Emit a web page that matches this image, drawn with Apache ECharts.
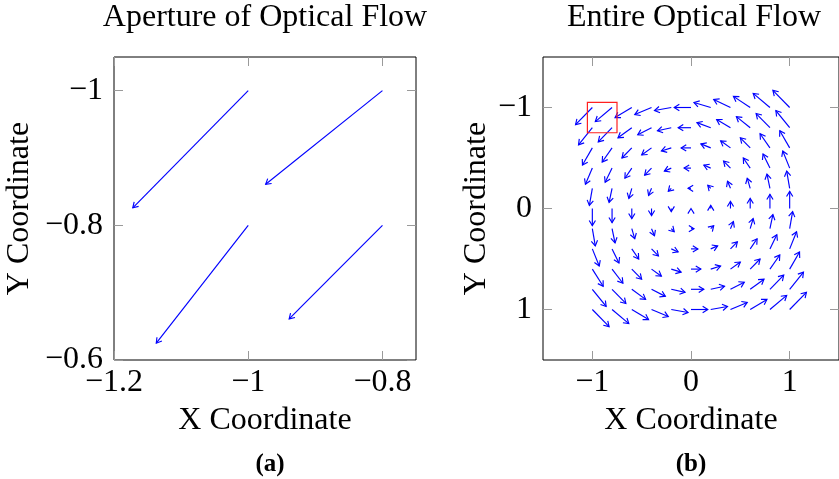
<!DOCTYPE html>
<html lang="en">
<head>
<meta charset="UTF-8">
<title>Optical Flow</title>
<script src="https://cdn.jsdelivr.net/npm/echarts@6/dist/echarts.min.js"></script>
<style>
  html, body { margin: 0; padding: 0; background: #fff; }
  #main { width: 839px; height: 479px; }
</style>
</head>
<body>
<div id="main"></div>
<script>
// aperture (left): arrow tails and flow vectors
var apX = [-1, -0.8, -1, -0.8];
var apY = [-1, -1, -0.8, -0.8];
var apU = [-0.172, -0.174, -0.137, -0.139];
var apV = [0.174, 0.139, 0.175, 0.139];
var apXTicks = [-1.2, -1, -0.8];
var apYTicks = [-1, -0.8, -0.6];

// entire flow (right): grid of tails, u/v read row by row (top row y=-1 first)
var gridX = [-1, -0.8, -0.6, -0.4, -0.2, 0, 0.2, 0.4, 0.6, 0.8, 1];
var gridY = [-1, -0.8, -0.6, -0.4, -0.2, 0, 0.2, 0.4, 0.6, 0.8, 1];
var flowU = [
  [-0.17, -0.17, -0.17, -0.17, -0.17, -0.17, -0.17, -0.17, -0.17, -0.17, -0.17],
  [-0.14, -0.14, -0.14, -0.14, -0.14, -0.13, -0.14, -0.14, -0.14, -0.14, -0.14],
  [-0.10, -0.10, -0.10, -0.10, -0.10, -0.10, -0.10, -0.10, -0.10, -0.10, -0.10],
  [-0.07, -0.07, -0.07, -0.07, -0.07, -0.07, -0.07, -0.07, -0.07, -0.07, -0.07],
  [-0.03, -0.03, -0.03, -0.03, -0.03, -0.03, -0.03, -0.03, -0.03, -0.03, -0.03],
  [0, 0, 0, 0, 0, 0, 0, 0, 0, 0, 0],
  [0.03, 0.03, 0.03, 0.03, 0.03, 0.03, 0.03, 0.03, 0.03, 0.03, 0.03],
  [0.07, 0.07, 0.07, 0.07, 0.07, 0.07, 0.07, 0.07, 0.07, 0.07, 0.07],
  [0.11, 0.11, 0.10, 0.10, 0.10, 0.10, 0.10, 0.10, 0.10, 0.10, 0.10],
  [0.14, 0.14, 0.14, 0.14, 0.14, 0.13, 0.14, 0.14, 0.14, 0.14, 0.14],
  [0.17, 0.17, 0.17, 0.17, 0.17, 0.17, 0.17, 0.17, 0.17, 0.17, 0.17]
];
var flowV = [
  [0.17, 0.14, 0.10, 0.07, 0.03, 0, -0.05, -0.08, -0.11, -0.14, -0.17],
  [0.17, 0.14, 0.10, 0.07, 0.03, 0, -0.05, -0.08, -0.11, -0.14, -0.17],
  [0.17, 0.14, 0.10, 0.07, 0.03, 0, -0.04, -0.07, -0.10, -0.14, -0.17],
  [0.16, 0.14, 0.10, 0.07, 0.03, 0, -0.03, -0.07, -0.10, -0.14, -0.17],
  [0.17, 0.14, 0.10, 0.07, 0.03, 0, -0.03, -0.07, -0.10, -0.14, -0.17],
  [0.17, 0.14, 0.10, 0.07, 0.03, 0, -0.03, -0.07, -0.10, -0.14, -0.17],
  [0.17, 0.14, 0.10, 0.07, 0.03, 0, -0.03, -0.07, -0.10, -0.14, -0.17],
  [0.17, 0.14, 0.10, 0.07, 0.03, 0, -0.03, -0.07, -0.10, -0.14, -0.17],
  [0.17, 0.14, 0.10, 0.07, 0.03, 0, -0.03, -0.07, -0.10, -0.14, -0.17],
  [0.17, 0.14, 0.10, 0.07, 0.03, 0, -0.03, -0.07, -0.10, -0.14, -0.17],
  [0.17, 0.14, 0.10, 0.07, 0.03, 0, -0.03, -0.07, -0.10, -0.14, -0.17]
];
var flowTicks = [-1, 0, 1];
// red box marking the aperture region: x0, y0, x1, y1
var apertureBox = [-1.05, -1.05, -0.75, -0.75];

var FONT = 'Liberation Serif';
var BLUE = '#0000ff';

function fmt(v) {
  return v < 0 ? '\u2212' + Math.abs(v) : String(v);
}

var apData = [];
for (var k = 0; k < apX.length; k++) apData.push([apX[k], apY[k], apU[k], apV[k]]);

var flowData = [];
for (var j = 0; j < gridY.length; j++) {
  for (var i = 0; i < gridX.length; i++) {
    flowData.push([gridX[i], gridY[j], flowU[j][i], flowV[j][i]]);
  }
}

// quiver arrow: line from tail to head plus an open tip
function renderArrow(params, api) {
  var x = api.value(0), y = api.value(1);
  var p0 = api.coord([x, y]);
  var p1 = api.coord([x + api.value(2), y + api.value(3)]);
  var dx = p1[0] - p0[0], dy = p1[1] - p0[1];
  // zero vector: pgfplots still leaves a small upward tip
  var a = (Math.abs(dx) + Math.abs(dy) < 0.5) ? -Math.PI / 2 : Math.atan2(dy, dx);
  var h = 6, w = 0.55;
  var l = [p1[0] - h * Math.cos(a - w), p1[1] - h * Math.sin(a - w)];
  var r = [p1[0] - h * Math.cos(a + w), p1[1] - h * Math.sin(a + w)];
  return {
    type: 'group',
    children: [
      { type: 'line', shape: { x1: p0[0], y1: p0[1], x2: p1[0], y2: p1[1] },
        style: { stroke: BLUE, lineWidth: 1.15, fill: null } },
      { type: 'polyline', shape: { points: [l, p1, r] },
        style: { stroke: BLUE, lineWidth: 1.15, fill: null } }
    ]
  };
}

function renderBox(params, api) {
  var a = api.coord([api.value(0), api.value(1)]);
  var b = api.coord([api.value(2), api.value(3)]);
  return {
    type: 'rect',
    shape: { x: a[0], y: a[1], width: b[0] - a[0], height: b[1] - a[1] },
    style: { stroke: '#ff2020', lineWidth: 1.2, fill: null }
  };
}

function txt(size, weight) {
  return { fontFamily: FONT, fontSize: size, color: '#000', fontWeight: weight || 'normal' };
}

function mkAxis(grid, pos, min, max, ticks, inverse, name, gap) {
  var main = (pos === 'bottom' || pos === 'left');
  return {
    type: 'value', gridIndex: grid, position: pos, min: min, max: max, inverse: inverse,
    axisLine: { show: false, onZero: false },
    axisTick: { show: true, inside: true, length: 9, customValues: ticks, lineStyle: { color: '#9a9a9a', width: 1 } },
    axisLabel: { show: main, customValues: ticks, formatter: fmt, fontFamily: FONT, fontSize: 32, color: '#000', margin: pos === 'left' ? 11 : 7 },
    splitLine: { show: false },
    name: main ? name : '',
    nameLocation: 'middle', nameGap: gap, nameTextStyle: txt(32)
  };
}

var myChart = echarts.init(document.getElementById('main'));
var option = {
  backgroundColor: '#fff',
  animation: false,
  title: [
    { text: 'Aperture of Optical Flow', left: 265, top: 2, textAlign: 'center', padding: 0, textStyle: txt(32) },
    { text: 'Entire Optical Flow', left: 694, top: 2, textAlign: 'center', padding: 0, textStyle: txt(32) },
    { text: '(a)', left: 270, top: 452, textAlign: 'center', padding: 0, textStyle: txt(25, 'bold') },
    { text: '(b)', left: 691, top: 452, textAlign: 'center', padding: 0, textStyle: txt(25, 'bold') }
  ],
  grid: [
    { left: 114, top: 57, width: 302, height: 303, show: true, borderColor: '#000', borderWidth: 1, backgroundColor: 'transparent' },
    { left: 543, top: 57, width: 303, height: 303, show: true, borderColor: '#000', borderWidth: 1, backgroundColor: 'transparent' }
  ],
  xAxis: [
    mkAxis(0, 'bottom', -1.2, -0.75, apXTicks, false, 'X Coordinate', 45),
    mkAxis(0, 'top', -1.2, -0.75, apXTicks, false, '', 0),
    mkAxis(1, 'bottom', -1.5, 1.5, flowTicks, false, 'X Coordinate', 45),
    mkAxis(1, 'top', -1.5, 1.5, flowTicks, false, '', 0)
  ],
  yAxis: [
    mkAxis(0, 'left', -1.05, -0.6, apYTicks, true, 'Y Coordinate', 78),
    mkAxis(0, 'right', -1.05, -0.6, apYTicks, true, '', 0),
    mkAxis(1, 'left', -1.5, 1.5, flowTicks, true, 'Y Coordinate', 50),
    mkAxis(1, 'right', -1.5, 1.5, flowTicks, true, '', 0)
  ],
  series: [
    { type: 'custom', xAxisIndex: 0, yAxisIndex: 0, data: apData, renderItem: renderArrow, encode: { x: 0, y: 1 }, silent: true },
    { type: 'custom', xAxisIndex: 2, yAxisIndex: 2, data: flowData, renderItem: renderArrow, encode: { x: 0, y: 1 }, silent: true },
    { type: 'custom', xAxisIndex: 2, yAxisIndex: 2, data: [apertureBox], renderItem: renderBox, encode: { x: [0, 2], y: [1, 3] }, silent: true }
  ]
};
myChart.setOption(option);
</script>
</body>
</html>
